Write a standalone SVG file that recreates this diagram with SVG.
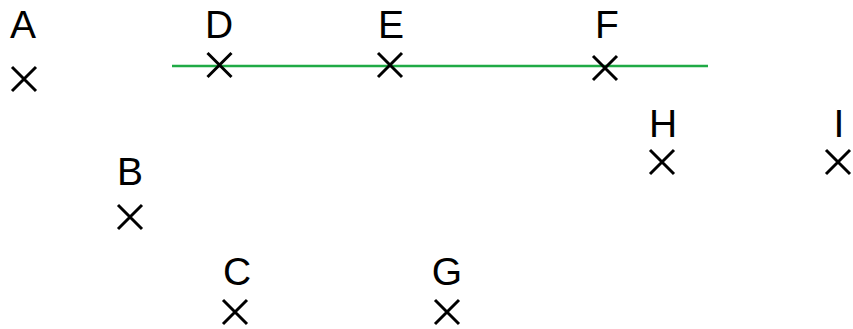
<svg xmlns="http://www.w3.org/2000/svg" width="853" height="329" viewBox="0 0 853 329">
<defs>
<style>
.lbl{font-family:"Liberation Sans",Arial,sans-serif;font-size:39px;fill:#000;text-anchor:middle}
.x{stroke:#000;stroke-width:3;fill:none}
.ln{stroke:#1faa45;stroke-width:2.5;fill:none}
</style>
<path id="cross" class="x" d="M-12,-12L12,12M-12,12L12,-12"/>
</defs>
<g id="connectors">
<line class="ln" x1="172" y1="66" x2="708" y2="66"/>
</g>
<g id="A"><text class="lbl" x="23" y="38">A</text><use href="#cross" x="24" y="79"/></g>
<g id="D"><text class="lbl" x="219" y="38">D</text><use href="#cross" x="219.5" y="65"/></g>
<g id="E"><text class="lbl" x="391" y="38">E</text><use href="#cross" x="390" y="65"/></g>
<g id="F"><text class="lbl" x="607" y="38">F</text><use href="#cross" x="605" y="68"/></g>
<g id="H"><text class="lbl" x="663" y="137">H</text><use href="#cross" x="662" y="162"/></g>
<g id="I"><text class="lbl" x="839" y="137">I</text><use href="#cross" x="838" y="162"/></g>
<g id="B"><text class="lbl" x="130" y="185">B</text><use href="#cross" x="130" y="217"/></g>
<g id="C"><text class="lbl" x="237" y="285">C</text><use href="#cross" x="235" y="312"/></g>
<g id="G"><text class="lbl" x="447" y="285">G</text><use href="#cross" x="447" y="312"/></g>
</svg>
